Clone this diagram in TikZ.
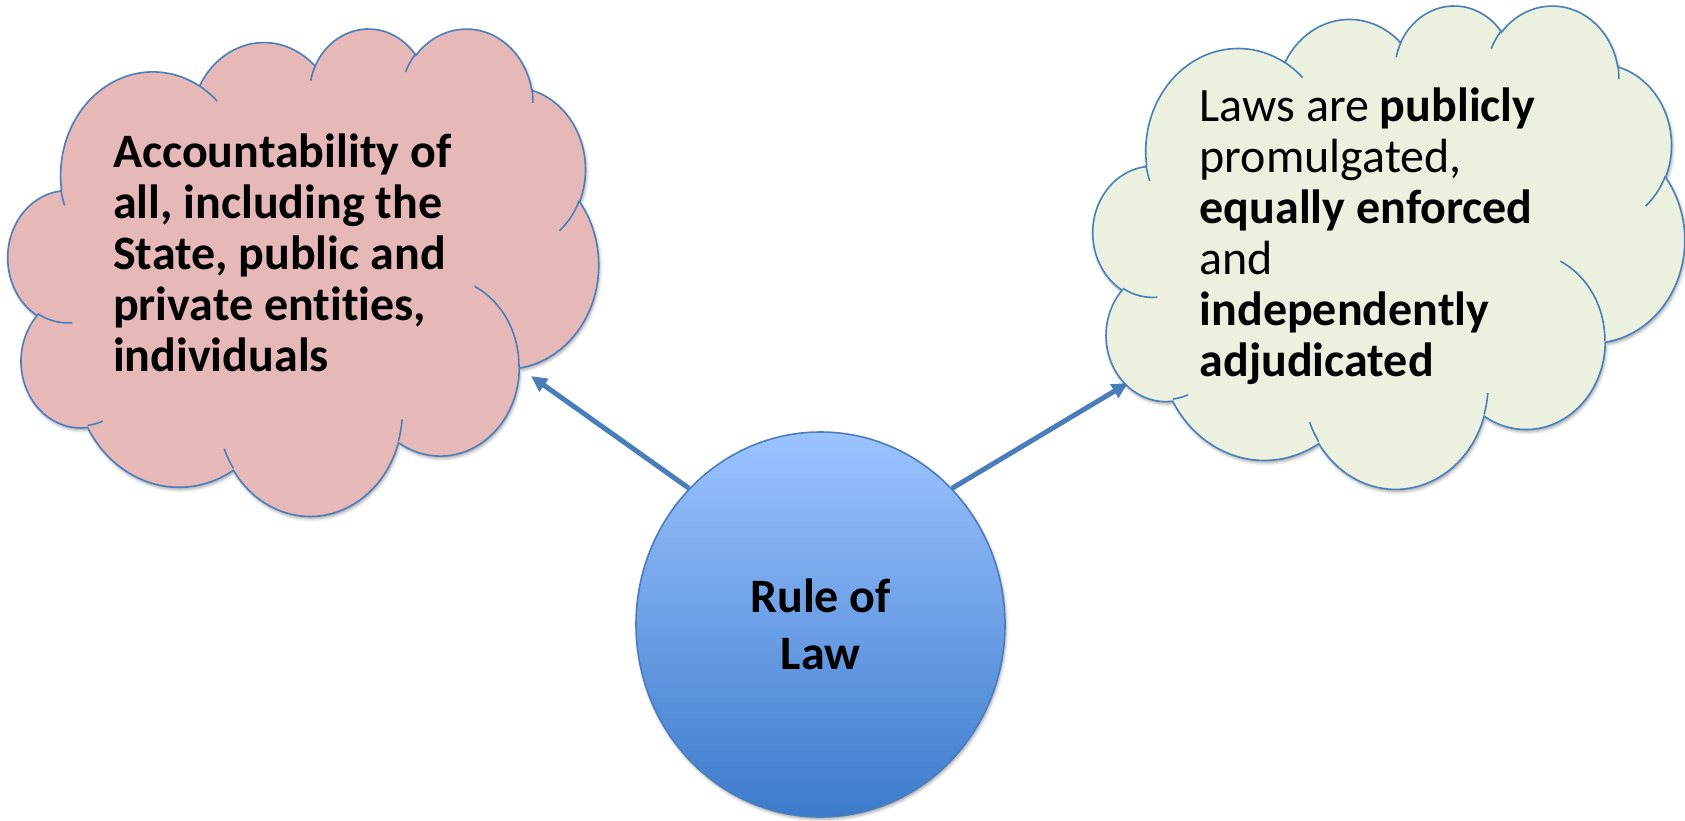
\documentclass[tikz,border=0pt]{standalone}
\usepackage{xcolor}
\usepackage{fontspec}
\setmainfont{Carlito}[Ligatures=NoCommon]
\usepackage{tikz}
\usetikzlibrary{shapes.geometric}
\usetikzlibrary{arrows.meta}
\usetikzlibrary{backgrounds}
\usetikzlibrary{shadows.blur}

\definecolor{outlineblue}{RGB}{74,126,187}
\definecolor{accpink}{RGB}{230,185,184}
\definecolor{lawgreen}{RGB}{235,241,222}
\definecolor{ruletop}{RGB}{156,195,255}
\definecolor{rulebottom}{RGB}{60,123,204}

% outline of the cloud, in a 432 x 432 box
\newcommand{\cloudoutline}{(39,143.7)
 arc[cloudarc={67.53}{91.90}{-190.4875}{123.7805}]
 arc[cloudarc={53.33}{72.67}{-144.1024}{89.9452}]
 arc[cloudarc={43.65}{59.45}{-145.8079}{99.7230}]
 arc[cloudarc={48.57}{65.95}{-130.9861}{117.2417}]
 arc[cloudarc={53.33}{72.73}{-78.7089}{109.0269}]
 arc[cloudarc={67.75}{92.20}{-46.2673}{130.2690}]
 arc[cloudarc={57.85}{78.67}{0.6250}{114.0333}]
 arc[cloudarc={67.52}{92.15}{22.4516}{115.1726}]
 arc[cloudarc={77.20}{105.43}{66.2426}{75.7110}]
 arc[cloudarc={43.60}{59.18}{-274.9421}{146.7356}]
 arc[cloudarc={43.45}{59.45}{-246.8285}{152.5189}] -- cycle}
% small creases inside the cloud
\newcommand{\cloudcreases}{(46.93,261.77) arc[cloudarc={43.45}{59.45}{86.7420}{26.4295}]
 (69.28,348.99) arc[cloudarc={43.60}{59.18}{73.6105}{11.4475}]
 (164.78,390.90) arc[cloudarc={67.52}{92.15}{137.6242}{14.0811}]
 (288.27,347.51) arc[cloudarc={67.52}{92.15}{6.4533}{15.9984}]
 (341.29,229.54) arc[cloudarc={57.85}{78.67}{-70.2924}{70.9174}]
 (417.98,153.54) arc[cloudarc={53.33}{72.73}{30.3180}{27.7515}]
 (383.24,54.26) arc[cloudarc={48.57}{65.95}{-13.7443}{14.8646}]
 (290.78,39.52) arc[cloudarc={48.57}{65.95}{-149.1815}{18.1976}]
 (221.41,47.20) arc[cloudarc={43.65}{59.45}{-163.4943}{17.6972}]
 (140.00,51.92) arc[cloudarc={67.53}{91.90}{-66.7070}{12.3194}]
 (41.27,157.89) arc[cloudarc={67.53}{91.90}{154.6815}{11.8619}]}

\begin{document}
\begin{tikzpicture}[x=0.5pt,y=-0.5pt,
  cloudarc/.style n args={4}{x radius=#1, y radius=#2, start angle={atan2(#1*sin(#3),#2*cos(#3))}, delta angle={mod(atan2(#1*sin(#3+#4),#2*cos(#3+#4))-atan2(#1*sin(#3),#2*cos(#3))+720,360)}},
  cloudline/.style={draw=outlineblue, line width=0.8pt},
  softshadow/.style={blur shadow={shadow xshift=0.6pt, shadow yshift=-1.2pt, shadow blur radius=1.5pt, shadow opacity=35}},
  cloudtext/.style={anchor=base west, inner sep=0pt, align=left, font=\fontsize{24}{25.5}\selectfont},
  rulenode/.style={ellipse, draw=outlineblue, line width=0.8pt, top color=ruletop, bottom color=rulebottom, minimum width=184.5pt, minimum height=192.5pt, inner sep=0pt, align=center, font=\fontsize{24}{28.3}\selectfont\bfseries, softshadow},
  linkarrow/.style={draw=outlineblue, line width=2.5pt, -{Triangle[length=8pt,width=7.5pt]}}]
\useasboundingbox (0,0) rectangle (1685,820);

%Shape: Cloud (left)
\begin{scope}[shift={(8.2,27.4)},xscale=1.3664,yscale=1.128]
\draw[cloudline, fill=accpink, softshadow] \cloudoutline;
\draw[cloudline] \cloudcreases;
\end{scope}
%Shape: Cloud (right)
\begin{scope}[shift={(1093.2,4.4)},xscale=1.3688,yscale=1.1186]
\draw[cloudline, fill=lawgreen, softshadow] \cloudoutline;
\draw[cloudline] \cloudcreases;
\end{scope}

% Text Node (base = last line)
\node[cloudtext, font=\fontsize{24}{25.5}\selectfont\bfseries] (acc) at (112.7,371.7) {Accountability of\\all, including the\\State, public and\\private entities,\\individuals};
% Text Node (base = last line)
\node[cloudtext] (laws) at (1199.3,376) {Laws are \textbf{publicly}\\promulgated,\\\textbf{equally enforced}\\and\\\textbf{independently}\\\textbf{adjudicated}};
% Circle
\node[rulenode] (rule) at (820.5,624.5) {Rule of\\Law};

\coordinate (acc tip) at (531,376);
\coordinate (laws tip) at (1128,383);
\begin{scope}[on background layer]
\draw[linkarrow] (rule.134) -- (acc tip);
\draw[linkarrow] (rule.46.5) -- (laws tip);
\end{scope}

\end{tikzpicture}
\end{document}
